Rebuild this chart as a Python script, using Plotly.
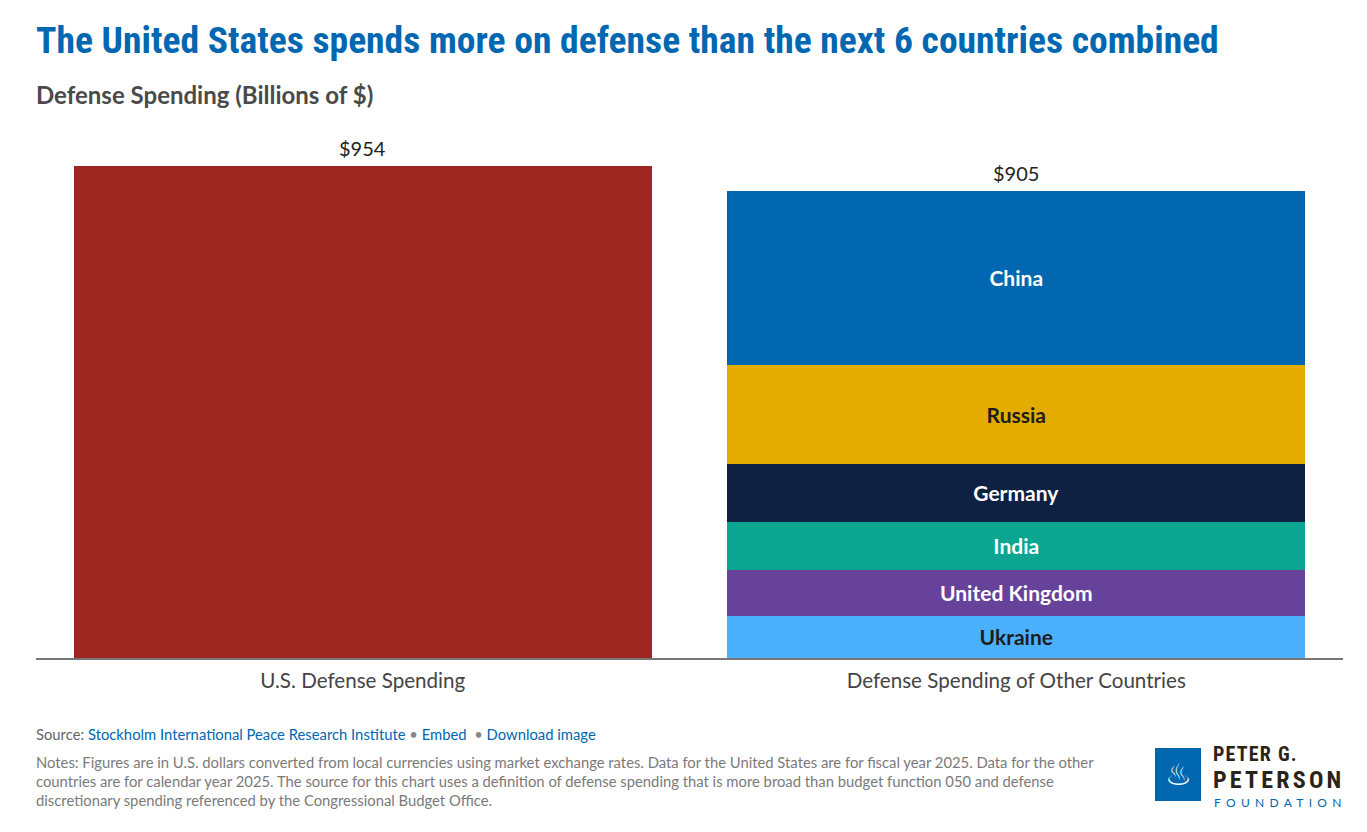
import plotly.graph_objects as go

# Defense spending, billions of US dollars
categories = ['U.S. Defense Spending', 'Defense Spending of Other Countries']
us_spending = 954
countries = ['Ukraine', 'United Kingdom', 'India', 'Germany', 'Russia', 'China']
country_spending = [82, 89, 93, 113, 192, 336]
country_colors = ['#4AB0FC', '#67429A', '#0CA592', '#0F2143', '#E4AB00', '#0067B0']
label_colors = ['#1d1d1d', '#ffffff', '#ffffff', '#ffffff', '#1d1d1d', '#ffffff']
totals = [us_spending, sum(country_spending)]

FONT = 'Lato, "Noto Sans", sans-serif'
COND = '"Liberation Sans Narrow", "Roboto Condensed", Lato, sans-serif'

fig = go.Figure()

fig.add_trace(go.Bar(
    x=[categories[0]],
    y=[us_spending],
    marker=dict(color='#9E2620', line=dict(width=0)),
    hoverinfo='skip',
    showlegend=False
))

for name, val, color, tcolor in zip(countries, country_spending, country_colors, label_colors):
    fig.add_trace(go.Bar(
        x=[categories[1]],
        y=[val],
        text=[name],
        textposition='inside',
        insidetextanchor='middle',
        textangle=0,
        constraintext='none',
        textfont=dict(family=FONT, size=21, color=tcolor, weight='bold'),
        marker=dict(color=color, line=dict(width=0)),
        hoverinfo='skip',
        showlegend=False
    ))

# value labels on top of each bar
for cat, tot in zip(categories, totals):
    fig.add_annotation(
        x=cat, y=tot, text=f'${tot:,}',
        showarrow=False, yanchor='bottom', yshift=4,
        font=dict(family=FONT, size=20, color='#222222')
    )

# page has an 8px body margin, so the figure is offset by 8px
fig.update_layout(
    width=1367, height=832,
    barmode='stack',
    bargap=0.116,
    plot_bgcolor='white', paper_bgcolor='white',
    margin=dict(l=28, r=32, t=122, b=182),
    font=dict(family=FONT),
    xaxis=dict(
        showline=True, linecolor='#777777', linewidth=2,
        ticks='', showgrid=False, zeroline=False,
        ticklabelstandoff=3,
        tickfont=dict(family=FONT, size=20.6, color='#444444'),
        fixedrange=True
    ),
    yaxis=dict(
        range=[0, 1024], visible=False, showgrid=False,
        zeroline=False, fixedrange=True
    )
)

# title and subtitle
fig.add_annotation(
    xref='paper', yref='paper', x=0, y=1, xanchor='left', yanchor='middle',
    yshift=130 - 40, xshift=-2, showarrow=False,
    text='The United States spends more on defense than the next 6 countries combined',
    font=dict(family=COND, size=37.6, color='#0067B0', weight='bold')
)
fig.add_annotation(
    xref='paper', yref='paper', x=0, y=1, xanchor='left', yanchor='middle',
    yshift=130 - 94, xshift=-2, showarrow=False,
    text='Defense Spending (Billions of $)',
    font=dict(family=FONT, size=24, color='#4a4a4a', weight='bold')
)

# footer
link = '#0067B0'
fig.add_annotation(
    xref='paper', yref='paper', x=0, y=0, xanchor='left', yanchor='middle',
    yshift=-(734 - 658), xshift=-2, showarrow=False,
    text=('Source: <span style="color:%s">Stockholm International Peace Research Institute</span>'
          ' <span style="color:#888">\u2022</span> <span style="color:%s">Embed</span>'
          '  <span style="color:#888">\u2022</span> <span style="color:%s">Download image</span>') % (link, link, link),
    font=dict(family=FONT, size=14.8, color='#666666')
)
notes = ('Notes: Figures are in U.S. dollars converted from local currencies using market exchange rates. '
         'Data for the United States are for fiscal year 2025. Data for the other<br>'
         'countries are for calendar year 2025. The source for this chart uses a definition of defense '
         'spending that is more broad than budget function 050 and defense<br>'
         'discretionary spending referenced by the Congressional Budget Office.')
fig.add_annotation(
    xref='paper', yref='paper', x=0, y=0, xanchor='left', yanchor='top',
    yshift=-(751 - 658), xshift=-2, showarrow=False, align='left',
    text=notes,
    font=dict(family=FONT, size=14.8, color='#7a7a7a')
)

# logo
def px_x(x):
    return (x - 36) / 1307


def px_y(y):
    return -(y - 658) / 528


fig.add_shape(type='rect', xref='paper', yref='paper',
              x0=px_x(1155), x1=px_x(1201), y0=px_y(801), y1=px_y(748),
              fillcolor='#0067B0', line=dict(width=0))
fig.add_annotation(
    xref='paper', yref='paper', x=px_x(1178), y=px_y(774),
    showarrow=False, text='\u2668', xanchor='center', yanchor='middle',
    font=dict(family='DejaVu Sans', size=30, color='white')
)
fig.add_annotation(
    xref='paper', yref='paper', x=px_x(1211), y=px_y(754),
    showarrow=False, text='<b><span style="letter-spacing:1.2px">PETER G.</span></b>',
    xanchor='left', yanchor='middle',
    font=dict(family=COND, size=20, color='#2a2418')
)
fig.add_annotation(
    xref='paper', yref='paper', x=px_x(1211), y=px_y(780),
    showarrow=False, text='<b><span style="letter-spacing:3.2px">PETERSON</span></b>',
    xanchor='left', yanchor='middle',
    font=dict(family=COND, size=24, color='#2a2418')
)
fig.add_annotation(
    xref='paper', yref='paper', x=px_x(1212), y=px_y(802),
    showarrow=False, text='<span style="letter-spacing:5.3px">FOUNDATION</span>',
    xanchor='left', yanchor='middle',
    font=dict(family=FONT, size=12, color='#0067B0')
)

fig.write_html('out.html')
